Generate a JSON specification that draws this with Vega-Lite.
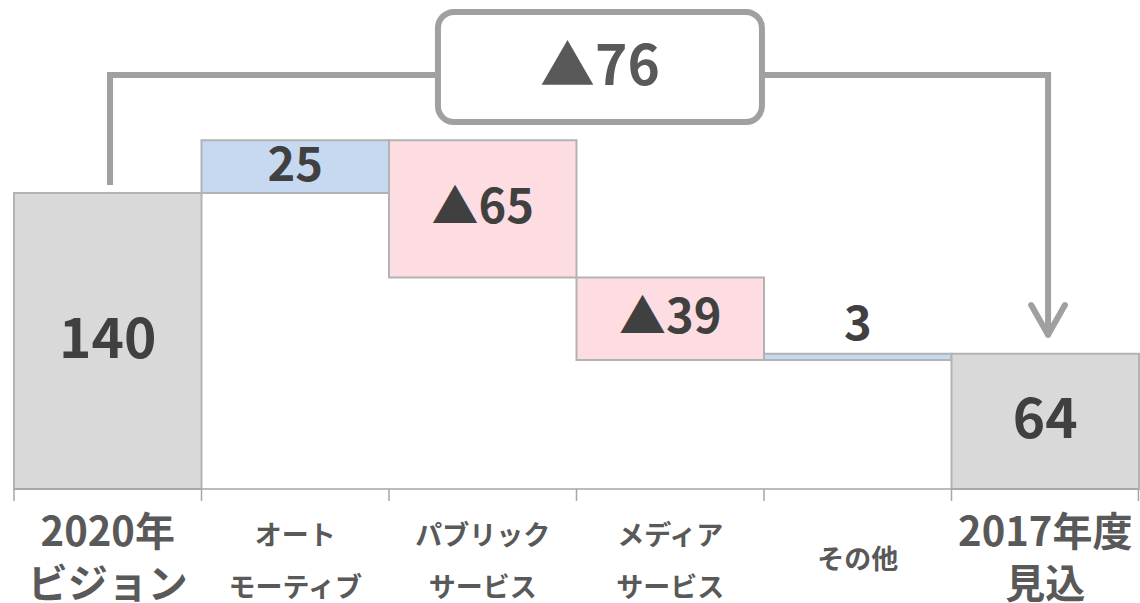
{
  "$schema": "https://vega.github.io/schema/vega-lite/v6.json",
  "width": 1125,
  "height": 489,
  "autosize": {"type": "none"},
  "padding": {"left": 14, "top": 0, "right": 1, "bottom": 114},
  "background": "white",
  "config": {"view": {"stroke": null}, "font": "Noto Sans CJK JP"},
  "datasets": {
    "steps": [
      {"cat": "2020年|ビジョン", "start": 0, "end": 140, "kind": "total", "label": "140"},
      {"cat": "オート|モーティブ", "start": 140, "end": 165, "kind": "up", "label": "25"},
      {"cat": "パブリック|サービス", "start": 165, "end": 100, "kind": "down", "label": "▲65"},
      {"cat": "メディア|サービス", "start": 100, "end": 61, "kind": "down", "label": "▲39"},
      {"cat": "その他", "start": 61, "end": 64, "kind": "up", "label": "3"},
      {"cat": "2017年度|見込", "start": 64, "end": 0, "kind": "total", "label": "64"}
    ],
    "total_change": [{"label": "▲76", "value": -76}]
  },
  "resolve": {"scale": {"x": "independent"}, "axis": {"x": "independent"}},
  "layer": [
    {
      "data": {"name": "steps"},
      "encoding": {
        "x": {
          "field": "cat",
          "type": "nominal",
          "sort": null,
          "scale": {"paddingInner": 0, "paddingOuter": 0},
          "axis": {
            "title": null,
            "domain": false,
            "ticks": false,
            "labelExpr": "split(datum.label, '|')",
            "labelAngle": 0,
            "labelBaseline": "top",
            "labelPadding": {
              "condition": [
                {"test": "datum.value == '2020年|ビジョン' || datum.value == '2017年度|見込'", "value": 24},
                {"test": "datum.value == 'その他'", "value": 58}
              ],
              "value": 34
            },
            "labelLineHeight": 52,
            "labelFontWeight": "bold",
            "labelColor": "#595959",
            "labelFont": "Noto Sans CJK JP",
            "labelFontSize": {
              "condition": {"test": "datum.value == '2020年|ビジョン' || datum.value == '2017年度|見込'", "value": 40},
              "value": 27
            },
            "labelOverlap": false,
            "labelLimit": 0,
            "labelBound": false,
            "labelFlush": false
          }
        }
      },
      "layer": [
        {
          "mark": {"type": "bar", "stroke": "#b3b3b3", "strokeWidth": 2},
          "encoding": {
            "y": {"field": "start", "type": "quantitative", "scale": {"domain": [0, 231.3], "nice": false}, "axis": null},
            "y2": {"field": "end"},
            "fill": {
              "field": "kind",
              "type": "nominal",
              "scale": {"domain": ["total", "up", "down"], "range": ["#d9d9d9", "#c6d9f1", "#fddde1"]},
              "legend": null
            }
          }
        },
        {
          "mark": {"type": "rule", "color": "#a6a6a6", "strokeWidth": 1.5, "y2Offset": 12},
          "encoding": {
            "x": {"field": "cat", "type": "nominal", "sort": null, "bandPosition": 0},
            "y": {"datum": 0, "type": "quantitative", "scale": {"domain": [0, 231.3], "nice": false}, "axis": null},
            "y2": {"datum": 0}
          }
        },
        {
          "transform": [
            {"calculate": "datum.cat == 'その他' ? datum.end + 13 : (datum.start + datum.end) / 2", "as": "ly"}
          ],
          "mark": {"type": "text", "font": "Noto Sans CJK JP", "fontWeight": "bold", "color": "#404040", "baseline": "middle"},
          "encoding": {
            "y": {"field": "ly", "type": "quantitative", "scale": {"domain": [0, 231.3], "nice": false}, "axis": null},
            "text": {"field": "label"},
            "size": {"condition": {"test": "datum.kind == 'total'", "value": 55}, "value": 47}
          }
        }
      ]
    },
    {
      "data": {"name": "total_change"},
      "layer": [
        {
          "mark": {"type": "rule", "color": "#a6a6a6", "strokeWidth": 1.5},
          "encoding": {
            "x": {"datum": 0, "type": "quantitative", "scale": {"domain": [0, 6], "nice": false, "zero": false}, "axis": null},
            "x2": {"datum": 6},
            "y": {"datum": 0, "type": "quantitative", "scale": {"domain": [0, 231.3], "nice": false}, "axis": null}
          }
        },
        {
          "mark": {"type": "rule", "color": "#a6a6a6", "strokeWidth": 1.5, "y2Offset": 12},
          "encoding": {
            "x": {"datum": 5.997, "type": "quantitative", "scale": {"domain": [0, 6], "nice": false, "zero": false}, "axis": null},
            "y": {"datum": 0, "type": "quantitative", "scale": {"domain": [0, 231.3], "nice": false}, "axis": null},
            "y2": {"datum": 0}
          }
        },
        {
          "mark": {"type": "rule", "color": "#a0a0a0", "strokeWidth": 6, "strokeCap": "square"},
          "encoding": {
            "x": {"datum": 0.512, "type": "quantitative", "scale": {"domain": [0, 6], "nice": false, "zero": false}, "axis": null},
            "x2": {"datum": 5.515},
            "y": {"datum": 195.8, "type": "quantitative", "scale": {"domain": [0, 231.3], "nice": false}, "axis": null}
          }
        },
        {
          "mark": {"type": "rule", "color": "#a0a0a0", "strokeWidth": 6, "strokeCap": "square"},
          "encoding": {
            "x": {"datum": 0.512, "type": "quantitative", "scale": {"domain": [0, 6], "nice": false, "zero": false}, "axis": null},
            "y": {"datum": 145.2, "type": "quantitative", "scale": {"domain": [0, 231.3], "nice": false}, "axis": null},
            "y2": {"datum": 195.8}
          }
        },
        {
          "mark": {"type": "rule", "color": "#a0a0a0", "strokeWidth": 6, "strokeCap": "square"},
          "encoding": {
            "x": {"datum": 5.515, "type": "quantitative", "scale": {"domain": [0, 6], "nice": false, "zero": false}, "axis": null},
            "y": {"datum": 195.8, "type": "quantitative", "scale": {"domain": [0, 231.3], "nice": false}, "axis": null},
            "y2": {"datum": 74}
          }
        },
        {
          "mark": {"type": "rule", "color": "#a0a0a0", "strokeWidth": 6, "strokeCap": "round"},
          "encoding": {
            "x": {"datum": 5.425, "type": "quantitative", "scale": {"domain": [0, 6], "nice": false, "zero": false}, "axis": null},
            "x2": {"datum": 5.515},
            "y": {"datum": 87, "type": "quantitative", "scale": {"domain": [0, 231.3], "nice": false}, "axis": null},
            "y2": {"datum": 73}
          }
        },
        {
          "mark": {"type": "rule", "color": "#a0a0a0", "strokeWidth": 6, "strokeCap": "round"},
          "encoding": {
            "x": {"datum": 5.605, "type": "quantitative", "scale": {"domain": [0, 6], "nice": false, "zero": false}, "axis": null},
            "x2": {"datum": 5.515},
            "y": {"datum": 87, "type": "quantitative", "scale": {"domain": [0, 231.3], "nice": false}, "axis": null},
            "y2": {"datum": 73}
          }
        },
        {
          "mark": {"type": "rect", "fill": "white", "stroke": "#a0a0a0", "strokeWidth": 6, "cornerRadius": 16},
          "encoding": {
            "x": {"datum": 2.261, "type": "quantitative", "scale": {"domain": [0, 6], "nice": false, "zero": false}, "axis": null},
            "x2": {"datum": 3.989},
            "y": {"datum": 225.6, "type": "quantitative", "scale": {"domain": [0, 231.3], "nice": false}, "axis": null},
            "y2": {"datum": 173.6}
          }
        },
        {
          "mark": {"type": "text", "font": "Noto Sans CJK JP", "fontWeight": "bold", "fontSize": 55, "color": "#595959", "baseline": "middle"},
          "encoding": {
            "x": {"datum": 3.125, "type": "quantitative", "scale": {"domain": [0, 6], "nice": false, "zero": false}, "axis": null},
            "y": {"datum": 199, "type": "quantitative", "scale": {"domain": [0, 231.3], "nice": false}, "axis": null},
            "text": {"field": "label"}
          }
        }
      ]
    }
  ]
}
